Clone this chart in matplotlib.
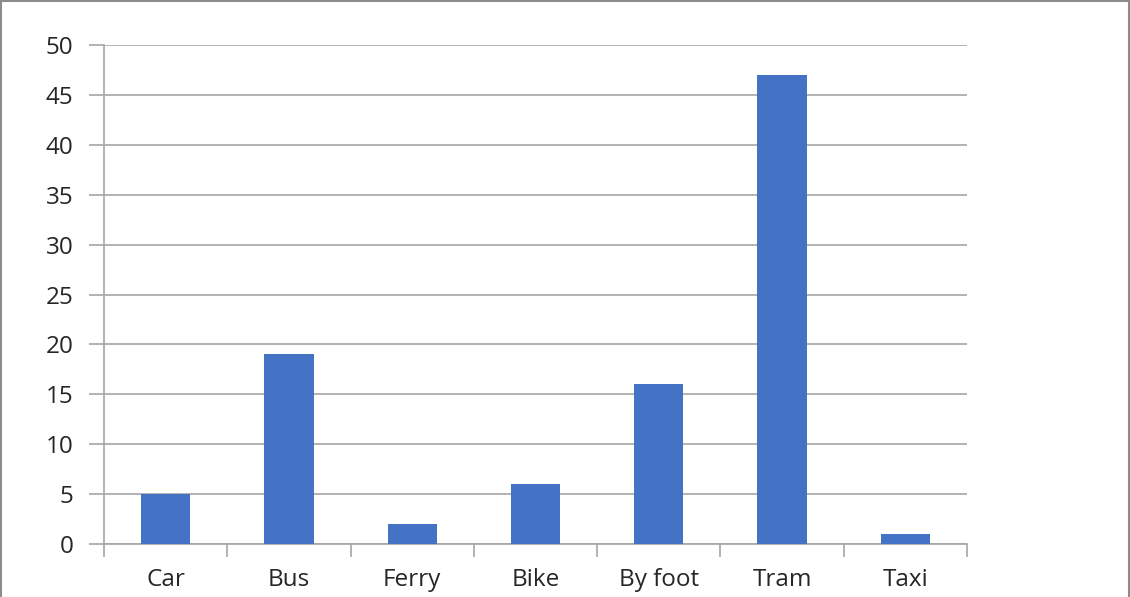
import matplotlib.pyplot as plt
import numpy as np
from matplotlib.patches import Rectangle

categories = ['Car', 'Bus', 'Ferry', 'Bike', 'By foot', 'Tram', 'Taxi']
values = [5, 19, 2, 6, 16, 47, 1]

plt.rcParams['font.family'] = ['Open Sans', 'DejaVu Sans']

grey = '#a6a6a6'
fig = plt.figure(figsize=(11.3, 5.97), dpi=100)
ax = fig.add_axes([104 / 1130, 1 - 544 / 597, (967 - 104) / 1130, (544 - 45) / 597])

x = np.arange(len(categories))
ax.bar(x, values, width=0.4, color='#4472c4', zorder=3)

ax.set_xlim(-0.5, len(categories) - 0.5)
ax.set_ylim(0, 50)
ax.set_yticks(range(0, 51, 5))
ax.yaxis.grid(True, color=grey, linewidth=1.2, zorder=0)
ax.set_xticks(x)
ax.set_xticklabels(categories)
ax.set_xticks(np.arange(-0.5, len(categories), 1), minor=True)

ax.tick_params(axis='x', which='major', length=0, pad=17, labelsize=17.5, colors='#262626')
ax.tick_params(axis='x', which='minor', length=9, width=1.2, color=grey)
ax.tick_params(axis='y', length=11, width=1.2, color=grey, pad=11, labelsize=17.5, labelcolor='#262626')

for s in ['top', 'right']:
    ax.spines[s].set_visible(False)
for s in ['left', 'bottom']:
    ax.spines[s].set_color(grey)
    ax.spines[s].set_linewidth(1.2)

# chart border
fig.patches.append(Rectangle((0.001, -0.01), 0.998, 1.008, transform=fig.transFigure,
                             fill=False, edgecolor='#8c8c8c', linewidth=1.5))

fig.savefig('out.png', dpi=100)
